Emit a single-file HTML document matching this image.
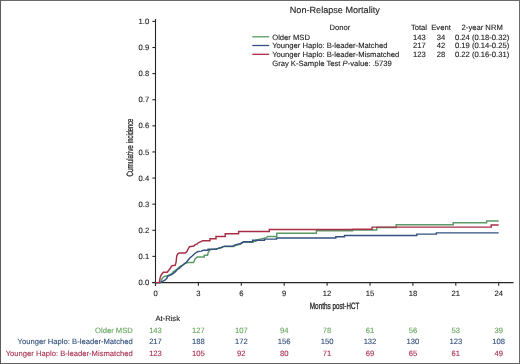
<!DOCTYPE html><html><head><meta charset="utf-8"><style>html,body{margin:0;padding:0;background:#fff}body{width:520px;height:364px;overflow:hidden;position:relative}svg{position:absolute;left:0;top:0;display:block;will-change:transform;text-rendering:geometricPrecision}</style></head><body>
<svg width="520" height="364" viewBox="0 0 520 364" font-family='"Liberation Sans", sans-serif'>
<rect x="0" y="0" width="520" height="364" fill="#fff"/>
<rect x="0" y="0" width="520" height="1" fill="#6a6a6a"/>
<rect x="0" y="363" width="520" height="1" fill="#606060"/>
<rect x="0" y="0" width="1" height="364" fill="#5c5c5c"/>
<rect x="519" y="0" width="1" height="364" fill="#6a6a6a"/>
<text x="289.8" y="13.2" font-size="9.1" fill="#1e1e1e" stroke="#1e1e1e" stroke-width="0.12">Non-Relapse Mortality</text>
<text x="329.6" y="29.9" font-size="7.65" fill="#1e1e1e" stroke="#1e1e1e" stroke-width="0.12">Donor</text>
<text x="419" y="29.9" font-size="7.65" fill="#1e1e1e" stroke="#1e1e1e" stroke-width="0.12" text-anchor="middle">Total</text>
<text x="441" y="29.9" font-size="7.65" fill="#1e1e1e" stroke="#1e1e1e" stroke-width="0.12" text-anchor="middle">Event</text>
<text x="482.2" y="29.9" font-size="7.65" fill="#1e1e1e" stroke="#1e1e1e" stroke-width="0.12" text-anchor="middle">2-year NRM</text>
<line x1="252.3" y1="36.8" x2="269.2" y2="36.8" stroke="#5b9a66" stroke-width="1.3"/>
<text x="272.2" y="39.6" font-size="7.65" fill="#1e1e1e" stroke="#1e1e1e" stroke-width="0.12">Older MSD</text>
<text x="419.3" y="39.6" font-size="7.65" fill="#1e1e1e" stroke="#1e1e1e" stroke-width="0.12" text-anchor="middle">143</text>
<text x="441" y="39.6" font-size="7.65" fill="#1e1e1e" stroke="#1e1e1e" stroke-width="0.12" text-anchor="middle">34</text>
<text x="482.1" y="39.6" font-size="7.65" fill="#1e1e1e" stroke="#1e1e1e" stroke-width="0.12" text-anchor="middle">0.24 (0.18-0.32)</text>
<line x1="252.3" y1="45.5" x2="269.2" y2="45.5" stroke="#34517f" stroke-width="1.3"/>
<text x="272.2" y="48.3" font-size="7.65" fill="#1e1e1e" stroke="#1e1e1e" stroke-width="0.12">Younger Haplo: B-leader-Matched</text>
<text x="419.3" y="48.3" font-size="7.65" fill="#1e1e1e" stroke="#1e1e1e" stroke-width="0.12" text-anchor="middle">217</text>
<text x="441" y="48.3" font-size="7.65" fill="#1e1e1e" stroke="#1e1e1e" stroke-width="0.12" text-anchor="middle">42</text>
<text x="482.1" y="48.3" font-size="7.65" fill="#1e1e1e" stroke="#1e1e1e" stroke-width="0.12" text-anchor="middle">0.19 (0.14-0.25)</text>
<line x1="252.3" y1="54.3" x2="269.2" y2="54.3" stroke="#a82e46" stroke-width="1.3"/>
<text x="272.2" y="56.7" font-size="7.65" fill="#1e1e1e" stroke="#1e1e1e" stroke-width="0.12">Younger Haplo: B-leader-Mismatched</text>
<text x="419.3" y="56.7" font-size="7.65" fill="#1e1e1e" stroke="#1e1e1e" stroke-width="0.12" text-anchor="middle">123</text>
<text x="441" y="56.7" font-size="7.65" fill="#1e1e1e" stroke="#1e1e1e" stroke-width="0.12" text-anchor="middle">28</text>
<text x="482.1" y="56.7" font-size="7.65" fill="#1e1e1e" stroke="#1e1e1e" stroke-width="0.12" text-anchor="middle">0.22 (0.16-0.31)</text>
<text x="272.2" y="65.5" font-size="7.65" fill="#1e1e1e" stroke="#1e1e1e" stroke-width="0.12">Gray K-Sample Test <tspan font-style="italic">P</tspan>-value: .5739</text>
<line x1="155.5" y1="19.0" x2="155.5" y2="285.8" stroke="#262626" stroke-width="1.1"/>
<line x1="152.3" y1="282.6" x2="513.6" y2="282.6" stroke="#262626" stroke-width="1.1"/>
<line x1="152.4" y1="282.50" x2="155.5" y2="282.50" stroke="#262626" stroke-width="1.1"/>
<text x="149.2" y="285.10" font-size="7.65" fill="#1e1e1e" stroke="#1e1e1e" stroke-width="0.12" text-anchor="end">0.0</text>
<line x1="152.4" y1="256.39" x2="155.5" y2="256.39" stroke="#262626" stroke-width="1.1"/>
<text x="149.2" y="258.99" font-size="7.65" fill="#1e1e1e" stroke="#1e1e1e" stroke-width="0.12" text-anchor="end">0.1</text>
<line x1="152.4" y1="230.28" x2="155.5" y2="230.28" stroke="#262626" stroke-width="1.1"/>
<text x="149.2" y="232.88" font-size="7.65" fill="#1e1e1e" stroke="#1e1e1e" stroke-width="0.12" text-anchor="end">0.2</text>
<line x1="152.4" y1="204.17" x2="155.5" y2="204.17" stroke="#262626" stroke-width="1.1"/>
<text x="149.2" y="206.77" font-size="7.65" fill="#1e1e1e" stroke="#1e1e1e" stroke-width="0.12" text-anchor="end">0.3</text>
<line x1="152.4" y1="178.06" x2="155.5" y2="178.06" stroke="#262626" stroke-width="1.1"/>
<text x="149.2" y="180.66" font-size="7.65" fill="#1e1e1e" stroke="#1e1e1e" stroke-width="0.12" text-anchor="end">0.4</text>
<line x1="152.4" y1="151.95" x2="155.5" y2="151.95" stroke="#262626" stroke-width="1.1"/>
<text x="149.2" y="154.55" font-size="7.65" fill="#1e1e1e" stroke="#1e1e1e" stroke-width="0.12" text-anchor="end">0.5</text>
<line x1="152.4" y1="125.84" x2="155.5" y2="125.84" stroke="#262626" stroke-width="1.1"/>
<text x="149.2" y="128.44" font-size="7.65" fill="#1e1e1e" stroke="#1e1e1e" stroke-width="0.12" text-anchor="end">0.6</text>
<line x1="152.4" y1="99.73" x2="155.5" y2="99.73" stroke="#262626" stroke-width="1.1"/>
<text x="149.2" y="102.33" font-size="7.65" fill="#1e1e1e" stroke="#1e1e1e" stroke-width="0.12" text-anchor="end">0.7</text>
<line x1="152.4" y1="73.62" x2="155.5" y2="73.62" stroke="#262626" stroke-width="1.1"/>
<text x="149.2" y="76.22" font-size="7.65" fill="#1e1e1e" stroke="#1e1e1e" stroke-width="0.12" text-anchor="end">0.8</text>
<line x1="152.4" y1="47.51" x2="155.5" y2="47.51" stroke="#262626" stroke-width="1.1"/>
<text x="149.2" y="50.11" font-size="7.65" fill="#1e1e1e" stroke="#1e1e1e" stroke-width="0.12" text-anchor="end">0.9</text>
<line x1="152.4" y1="21.40" x2="155.5" y2="21.40" stroke="#262626" stroke-width="1.1"/>
<text x="149.2" y="24.00" font-size="7.65" fill="#1e1e1e" stroke="#1e1e1e" stroke-width="0.12" text-anchor="end">1.0</text>
<line x1="155.50" y1="282.5" x2="155.50" y2="285.8" stroke="#262626" stroke-width="1.1"/>
<text x="155.50" y="295.7" font-size="7.65" fill="#1e1e1e" stroke="#1e1e1e" stroke-width="0.12" text-anchor="middle">0</text>
<line x1="198.40" y1="282.5" x2="198.40" y2="285.8" stroke="#262626" stroke-width="1.1"/>
<text x="198.40" y="295.7" font-size="7.65" fill="#1e1e1e" stroke="#1e1e1e" stroke-width="0.12" text-anchor="middle">3</text>
<line x1="241.30" y1="282.5" x2="241.30" y2="285.8" stroke="#262626" stroke-width="1.1"/>
<text x="241.30" y="295.7" font-size="7.65" fill="#1e1e1e" stroke="#1e1e1e" stroke-width="0.12" text-anchor="middle">6</text>
<line x1="284.20" y1="282.5" x2="284.20" y2="285.8" stroke="#262626" stroke-width="1.1"/>
<text x="284.20" y="295.7" font-size="7.65" fill="#1e1e1e" stroke="#1e1e1e" stroke-width="0.12" text-anchor="middle">9</text>
<line x1="327.10" y1="282.5" x2="327.10" y2="285.8" stroke="#262626" stroke-width="1.1"/>
<text x="327.10" y="295.7" font-size="7.65" fill="#1e1e1e" stroke="#1e1e1e" stroke-width="0.12" text-anchor="middle">12</text>
<line x1="370.00" y1="282.5" x2="370.00" y2="285.8" stroke="#262626" stroke-width="1.1"/>
<text x="370.00" y="295.7" font-size="7.65" fill="#1e1e1e" stroke="#1e1e1e" stroke-width="0.12" text-anchor="middle">15</text>
<line x1="412.90" y1="282.5" x2="412.90" y2="285.8" stroke="#262626" stroke-width="1.1"/>
<text x="412.90" y="295.7" font-size="7.65" fill="#1e1e1e" stroke="#1e1e1e" stroke-width="0.12" text-anchor="middle">18</text>
<line x1="455.80" y1="282.5" x2="455.80" y2="285.8" stroke="#262626" stroke-width="1.1"/>
<text x="455.80" y="295.7" font-size="7.65" fill="#1e1e1e" stroke="#1e1e1e" stroke-width="0.12" text-anchor="middle">21</text>
<line x1="498.70" y1="282.5" x2="498.70" y2="285.8" stroke="#262626" stroke-width="1.1"/>
<text x="498.70" y="295.7" font-size="7.65" fill="#1e1e1e" stroke="#1e1e1e" stroke-width="0.12" text-anchor="middle">24</text>
<text x="309.8" y="308.6" font-size="9.2" fill="#1e1e1e" stroke="#1e1e1e" stroke-width="0.3" textLength="20.9" lengthAdjust="spacingAndGlyphs">Months</text>
<text x="332.6" y="308.6" font-size="9.2" fill="#1e1e1e" stroke="#1e1e1e" stroke-width="0.3" textLength="26.6" lengthAdjust="spacingAndGlyphs">post-HCT</text>
<g transform="translate(133.0,147.6) rotate(-90)">
<text x="-29.0" y="0" font-size="9.2" fill="#1e1e1e" stroke="#1e1e1e" stroke-width="0.25" textLength="31.4" lengthAdjust="spacingAndGlyphs">Cumulative</text>
<text x="4.7" y="0" font-size="9.2" fill="#1e1e1e" stroke="#1e1e1e" stroke-width="0.25" textLength="24.2" lengthAdjust="spacingAndGlyphs">incidence</text>
</g>
<path d="M155.5,282.6 H160.7 L161.8,279.1 L163,277.5 L164.2,276.4 L166.5,276 L168.5,275.2 L171.8,273.7 L173.4,271.6 L175.7,270.2 L178,268.3 L179.5,266.8 L181.1,266 L183.5,264.4 L185.5,263.4 L188.1,262.6 L190.4,262.5 H193.5 L195,259.2 L196.5,257.6 L197.5,257 H204.2 V255.3 H207.6 L208.1,252.7 L209.6,250.4 L210.4,249.6 L216,249 L221.9,247.6 L223,246.6 H233.5 L236.5,245.2 L240.4,244 L243.5,242.2 H253.1 V241.2 H256 V240.1 L266.5,237.7 L267.5,236.4 H276.8 V233.2 H316.4 V230.8 H352.5 V229.9 H376.7 V227.5 H396.2 V224.8 H453.2 V222.8 H486.6 V220.9 H498.7" fill="none" stroke="#5b9a66" stroke-width="1.45" stroke-linejoin="miter"/>
<path d="M155.5,282.6 H160.3 L162.6,281.4 L164.9,280.2 L166.8,278.3 L167.6,276.4 L169.2,275.6 L171.1,274.8 L173.4,273.3 L175.7,271.4 L177.2,269.5 L179.2,268.3 L181.1,266.4 L183.4,264.8 L184.9,263.3 L186.5,262.3 L188.6,259.5 L190.5,257.3 L192,256.3 L194.3,254 L196.5,252.3 L198.1,251.5 L201.2,251.1 L203.5,250.3 H208.1 V249.2 H216 L218.1,248.4 L221.9,247.3 L224.2,246.2 H232.7 L235.8,244.6 L240.4,243.7 L243.5,241.8 H252.6 V240.2 H264.5 V239.1 H276.5 V238.0 H335.8 V236.7 H344.5 V235.5 H416.8 V234.1 H436.4 V232.85 H498.7" fill="none" stroke="#34517f" stroke-width="1.45" stroke-linejoin="miter"/>
<path d="M155.5,282.6 H159.3 L160.3,276.9 L161.5,274.4 L163.4,272.3 L167.2,272.3 L168.8,270.2 L170.3,268.3 L171.5,266.1 L173,265.5 L175.2,265.3 L176.1,262.2 L176.5,258.3 L176.8,255.6 L177.9,253.6 L179.3,252.9 L185.2,252.9 L186.8,251.8 L188.2,248.9 L189.5,246.7 L193.8,246 L194.8,244.9 L197.3,243.8 L198.5,242.6 L200.4,241.9 L202.7,240.7 H210 V238.7 H216 V236.4 H225.2 V233.7 H238.6 V231.4 H269.3 V229.5 H352.5 V229.2 H372.1 V227.1 H491.2 V225 H498.7" fill="none" stroke="#a82e46" stroke-width="1.45" stroke-linejoin="miter"/>
<text x="155.4" y="320.5" font-size="7.65" fill="#1e1e1e" stroke="#1e1e1e" stroke-width="0.12">At-Risk</text>
<text x="132.8" y="332.7" font-size="7.65" fill="#66a85e" stroke="#66a85e" stroke-width="0.12" text-anchor="end">Older MSD</text>
<text x="155.50" y="332.7" font-size="7.65" fill="#66a85e" stroke="#66a85e" stroke-width="0.12" text-anchor="middle">143</text>
<text x="198.40" y="332.7" font-size="7.65" fill="#66a85e" stroke="#66a85e" stroke-width="0.12" text-anchor="middle">127</text>
<text x="241.30" y="332.7" font-size="7.65" fill="#66a85e" stroke="#66a85e" stroke-width="0.12" text-anchor="middle">107</text>
<text x="284.20" y="332.7" font-size="7.65" fill="#66a85e" stroke="#66a85e" stroke-width="0.12" text-anchor="middle">94</text>
<text x="327.10" y="332.7" font-size="7.65" fill="#66a85e" stroke="#66a85e" stroke-width="0.12" text-anchor="middle">78</text>
<text x="370.00" y="332.7" font-size="7.65" fill="#66a85e" stroke="#66a85e" stroke-width="0.12" text-anchor="middle">61</text>
<text x="412.90" y="332.7" font-size="7.65" fill="#66a85e" stroke="#66a85e" stroke-width="0.12" text-anchor="middle">56</text>
<text x="455.80" y="332.7" font-size="7.65" fill="#66a85e" stroke="#66a85e" stroke-width="0.12" text-anchor="middle">53</text>
<text x="498.70" y="332.7" font-size="7.65" fill="#66a85e" stroke="#66a85e" stroke-width="0.12" text-anchor="middle">39</text>
<text x="132.8" y="344.1" font-size="7.65" fill="#33517c" stroke="#33517c" stroke-width="0.12" text-anchor="end">Younger Haplo: B-leader-Matched</text>
<text x="155.50" y="344.1" font-size="7.65" fill="#33517c" stroke="#33517c" stroke-width="0.12" text-anchor="middle">217</text>
<text x="198.40" y="344.1" font-size="7.65" fill="#33517c" stroke="#33517c" stroke-width="0.12" text-anchor="middle">188</text>
<text x="241.30" y="344.1" font-size="7.65" fill="#33517c" stroke="#33517c" stroke-width="0.12" text-anchor="middle">172</text>
<text x="284.20" y="344.1" font-size="7.65" fill="#33517c" stroke="#33517c" stroke-width="0.12" text-anchor="middle">156</text>
<text x="327.10" y="344.1" font-size="7.65" fill="#33517c" stroke="#33517c" stroke-width="0.12" text-anchor="middle">150</text>
<text x="370.00" y="344.1" font-size="7.65" fill="#33517c" stroke="#33517c" stroke-width="0.12" text-anchor="middle">132</text>
<text x="412.90" y="344.1" font-size="7.65" fill="#33517c" stroke="#33517c" stroke-width="0.12" text-anchor="middle">130</text>
<text x="455.80" y="344.1" font-size="7.65" fill="#33517c" stroke="#33517c" stroke-width="0.12" text-anchor="middle">123</text>
<text x="498.70" y="344.1" font-size="7.65" fill="#33517c" stroke="#33517c" stroke-width="0.12" text-anchor="middle">108</text>
<text x="132.8" y="355.8" font-size="7.65" fill="#ab3150" stroke="#ab3150" stroke-width="0.12" text-anchor="end">Younger Haplo: B-leader-Mismatched</text>
<text x="155.50" y="355.8" font-size="7.65" fill="#ab3150" stroke="#ab3150" stroke-width="0.12" text-anchor="middle">123</text>
<text x="198.40" y="355.8" font-size="7.65" fill="#ab3150" stroke="#ab3150" stroke-width="0.12" text-anchor="middle">105</text>
<text x="241.30" y="355.8" font-size="7.65" fill="#ab3150" stroke="#ab3150" stroke-width="0.12" text-anchor="middle">92</text>
<text x="284.20" y="355.8" font-size="7.65" fill="#ab3150" stroke="#ab3150" stroke-width="0.12" text-anchor="middle">80</text>
<text x="327.10" y="355.8" font-size="7.65" fill="#ab3150" stroke="#ab3150" stroke-width="0.12" text-anchor="middle">71</text>
<text x="370.00" y="355.8" font-size="7.65" fill="#ab3150" stroke="#ab3150" stroke-width="0.12" text-anchor="middle">69</text>
<text x="412.90" y="355.8" font-size="7.65" fill="#ab3150" stroke="#ab3150" stroke-width="0.12" text-anchor="middle">65</text>
<text x="455.80" y="355.8" font-size="7.65" fill="#ab3150" stroke="#ab3150" stroke-width="0.12" text-anchor="middle">61</text>
<text x="498.70" y="355.8" font-size="7.65" fill="#ab3150" stroke="#ab3150" stroke-width="0.12" text-anchor="middle">49</text>
</svg></body></html>
